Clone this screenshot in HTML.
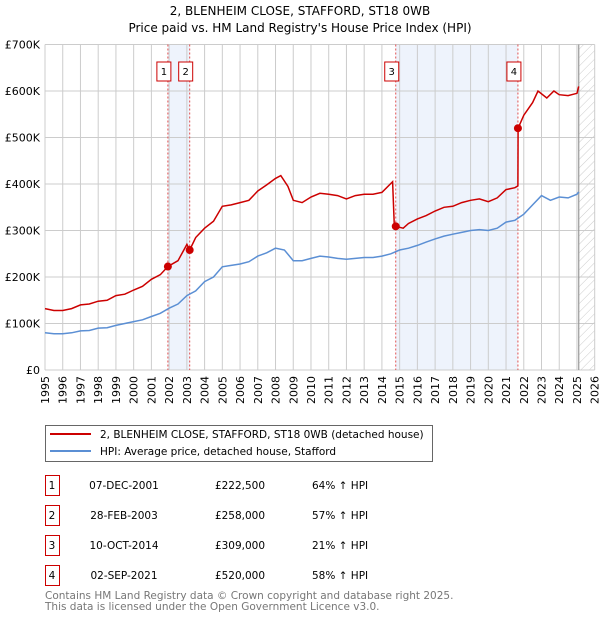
<!DOCTYPE html>
<html><head><meta charset="utf-8"><style>
body{margin:0;background:#fff;font-family:"Liberation Sans","DejaVu Sans",sans-serif;}
svg text{font-family:"DejaVu Sans","Liberation Sans",sans-serif;}
</style></head><body>
<svg id="c" width="600" height="620" xmlns="http://www.w3.org/2000/svg">
<text x="300" y="15" text-anchor="middle" font-size="12">2, BLENHEIM CLOSE, STAFFORD, ST18 0WB</text>
<text x="300" y="32" text-anchor="middle" font-size="12">Price paid vs. HM Land Registry's House Price Index (HPI)</text>
<g id="plot"></g>
<g>
<rect x="45.5" y="425.5" width="387" height="36" fill="#fff" stroke="#666"/>
<line x1="50" y1="434" x2="91" y2="434" stroke="#cc0000" stroke-width="2"/>
<text x="100" y="438" font-size="10.5">2, BLENHEIM CLOSE, STAFFORD, ST18 0WB (detached house)</text>
<line x1="50" y1="451" x2="91" y2="451" stroke="#5b8fd4" stroke-width="2"/>
<text x="100" y="455" font-size="10.5">HPI: Average price, detached house, Stafford</text>
</g>
<g id="table" font-size="10.5"></g>
<text x="45" y="599" font-size="10.5" fill="#777">Contains HM Land Registry data © Crown copyright and database right 2025.</text>
<text x="45" y="610" font-size="10.5" fill="#777">This data is licensed under the Open Government Licence v3.0.</text>
</svg>
<script>
const hpiYears=[1995,1995.5,1996,1996.5,1997,1997.5,1998,1998.5,1999,1999.5,2000,2000.5,2001,2001.5,2002,2002.5,2003,2003.5,2004,2004.5,2005,2005.5,2006,2006.5,2007,2007.5,2008,2008.5,2009,2009.5,2010,2010.5,2011,2011.5,2012,2012.5,2013,2013.5,2014,2014.5,2015,2015.5,2016,2016.5,2017,2017.5,2018,2018.5,2019,2019.5,2020,2020.5,2021,2021.5,2022,2022.5,2023,2023.5,2024,2024.5,2025,2025.1];
const hpiValues=[80,78,78,80,84,85,90,91,96,100,104,108,115,122,133,142,160,170,190,200,222,225,228,233,245,252,262,258,235,235,240,245,243,240,238,240,242,242,245,250,258,262,268,275,282,288,292,296,300,302,300,305,318,322,335,355,375,365,372,370,378,383];
const priceYears=[1995,1995.5,1996,1996.5,1997,1997.5,1998,1998.5,1999,1999.5,2000,2000.5,2001,2001.5,2001.93,2002.5,2003,2003.16,2003.5,2004,2004.5,2005,2005.5,2006,2006.5,2007,2007.5,2008,2008.3,2008.7,2009,2009.5,2010,2010.5,2011,2011.5,2012,2012.5,2013,2013.5,2014,2014.6,2014.7,2014.78,2015.2,2015.5,2016,2016.5,2017,2017.5,2018,2018.5,2019,2019.5,2020,2020.5,2021,2021.5,2021.67,2021.68,2022,2022.5,2022.8,2023.3,2023.7,2024,2024.5,2025,2025.1];
const priceValues=[132,128,128,132,140,142,148,150,160,163,172,180,195,205,222.5,235,270,258,285,305,320,352,355,360,365,385,398,412,418,395,365,360,372,380,378,375,368,375,378,378,382,405,310,309,305,315,325,332,342,350,352,360,365,368,362,370,388,392,396,520,548,575,600,585,600,592,590,595,610];
const saleLabels=["1","2","3","4"];
const saleYears=[2001.93,2003.16,2014.78,2021.67];
const salePrices=[222.5,258,309,520];
const saleDates=["07-DEC-2001","28-FEB-2003","10-OCT-2014","02-SEP-2021"];
const salePriceText=["£222,500","£258,000","£309,000","£520,000"];
const saleHpiText=["64% ↑ HPI","57% ↑ HPI","21% ↑ HPI","58% ↑ HPI"];
const yTicks=[0,100,200,300,400,500,600,700];
const yTickLabels=["£0","£100K","£200K","£300K","£400K","£500K","£600K","£700K"];
const xTicks=[1995,1996,1997,1998,1999,2000,2001,2002,2003,2004,2005,2006,2007,2008,2009,2010,2011,2012,2013,2014,2015,2016,2017,2018,2019,2020,2021,2022,2023,2024,2025,2026];

const NS="http://www.w3.org/2000/svg";
const X0=45,X1=594.7,Y0=370,Y1=44.5;
const xs=v=>X0+(v-1995)/(2026-1995)*(X1-X0);
const ys=v=>Y0-v/700*(Y0-Y1);
const plot=document.getElementById('plot');
function mk(tag,attrs,parent){const e=document.createElementNS(NS,tag);for(const k in attrs)e.setAttribute(k,attrs[k]);(parent||plot).appendChild(e);return e;}
let e=mk('rect',{x:xs(saleYears[0]),y:Y1,width:xs(saleYears[1])-xs(saleYears[0]),height:Y0-Y1,fill:'#eef3fc'});


e=mk('rect',{x:xs(saleYears[2]),y:Y1,width:xs(saleYears[3])-xs(saleYears[2]),height:Y0-Y1,fill:'#eef3fc'});


const defs=mk('defs',{});
const pat=mk('pattern',{id:'h',width:6,height:6,patternUnits:'userSpaceOnUse',patternTransform:'rotate(45)'},defs);
mk('line',{x1:0,y1:0,x2:0,y2:6,stroke:'#ccc','stroke-width':1},pat);
e=mk('rect',{x:xs(2025.1),y:Y1,width:X1-xs(2025.1),height:Y0-Y1,fill:'url(#h)'});


xTicks.forEach(t=>{const l=mk('line',{x1:xs(t),x2:xs(t),y1:Y1,y2:Y0,stroke:'#ccc','stroke-width':1});


const tx=mk('text',{x:0,y:0,'font-size':11,'text-anchor':'end',transform:`translate(${xs(t)+4},${Y0+6}) rotate(-90)`});tx.textContent=t;

});
yTicks.forEach((t,i)=>{const l=mk('line',{x1:X0,x2:X1,y1:ys(t),y2:ys(t),stroke:'#ccc','stroke-width':1});


const tx=mk('text',{x:X0-5,y:ys(t)+4,'font-size':11,'text-anchor':'end'});tx.textContent=yTickLabels[i];

});
e=mk('line',{x1:xs(2025.1),x2:xs(2025.1),y1:Y1,y2:Y0,stroke:'#999','stroke-width':1.2});


saleYears.forEach((y,i)=>{const l=mk('line',{x1:xs(y),x2:xs(y),y1:Y1,y2:Y0,stroke:'#e05050','stroke-width':1,'stroke-dasharray':'2,2'});


const bx=xs(y)-11;
const r=mk('rect',{x:bx,y:62,width:14,height:19,fill:'#fff',stroke:'#cc0000'});


const t=mk('text',{x:bx+7,y:75,'font-size':10,'text-anchor':'middle'});t.textContent=saleLabels[i];

});
const path=(xa,va)=>xa.map((x,i)=>(i?'L':'M')+xs(x).toFixed(1)+','+ys(va[i]).toFixed(1)).join('');
e=mk('path',{d:path(hpiYears,hpiValues),fill:'none',stroke:'#5b8fd4','stroke-width':1.5});


e=mk('path',{d:path(priceYears,priceValues),fill:'none',stroke:'#cc0000','stroke-width':1.5});


saleYears.forEach((y,i)=>{const c=mk('circle',{cx:xs(y),cy:ys(salePrices[i]),r:4,fill:'#cc0000'});

});
const tb=document.getElementById('table');
saleLabels.forEach((s,i)=>{const y=475+i*30;
const r=mk('rect',{x:45.5,y:y+0.5,width:14,height:20,fill:'#fff',stroke:'#cc0000'},tb);


const cells=[[52,s,'middle'],[124,saleDates[i],'middle'],[240,salePriceText[i],'middle'],[312,saleHpiText[i],'start']];
cells.forEach(([x,txt,a],j)=>{const t=mk('text',{x:x,y:y+14,'text-anchor':a,'font-size':10.5},tb);t.textContent=txt;

});});
</script>
</body></html>
